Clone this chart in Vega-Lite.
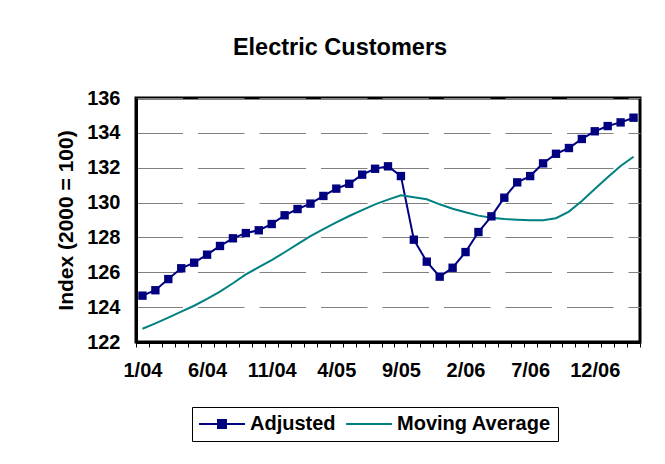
{
  "$schema": "https://vega.github.io/schema/vega-lite/v6.json",
  "autosize": {"type": "none"},
  "width": 504,
  "height": 244,
  "padding": {"left": 136, "top": 98, "right": 25, "bottom": 122},
  "background": "white",
  "config": {
    "font": "Liberation Sans",
    "view": {"stroke": "black", "strokeWidth": 3}
  },
  "title": {
    "text": "Electric Customers",
    "fontSize": 23.5,
    "fontWeight": "bold",
    "font": "Liberation Sans",
    "color": "black",
    "anchor": "middle",
    "dx": -48,
    "offset": 29
  },
  "data": {
    "values": [
      {"month": "1/04", "Adjusted": 124.66, "Moving Average": 122.76},
      {"month": "2/04", "Adjusted": 124.97, "Moving Average": 123.07},
      {"month": "3/04", "Adjusted": 125.61, "Moving Average": 123.40},
      {"month": "4/04", "Adjusted": 126.23, "Moving Average": 123.74},
      {"month": "5/04", "Adjusted": 126.55, "Moving Average": 124.08},
      {"month": "6/04", "Adjusted": 127.01, "Moving Average": 124.47},
      {"month": "7/04", "Adjusted": 127.51, "Moving Average": 124.89},
      {"month": "8/04", "Adjusted": 127.95, "Moving Average": 125.37},
      {"month": "9/04", "Adjusted": 128.25, "Moving Average": 125.88},
      {"month": "10/04", "Adjusted": 128.41, "Moving Average": 126.29},
      {"month": "11/04", "Adjusted": 128.77, "Moving Average": 126.70},
      {"month": "12/04", "Adjusted": 129.27, "Moving Average": 127.15},
      {"month": "1/05", "Adjusted": 129.63, "Moving Average": 127.62},
      {"month": "2/05", "Adjusted": 129.94, "Moving Average": 128.08},
      {"month": "3/05", "Adjusted": 130.38, "Moving Average": 128.47},
      {"month": "4/05", "Adjusted": 130.80, "Moving Average": 128.87},
      {"month": "5/05", "Adjusted": 131.08, "Moving Average": 129.23},
      {"month": "6/05", "Adjusted": 131.60, "Moving Average": 129.57},
      {"month": "7/05", "Adjusted": 131.94, "Moving Average": 129.90},
      {"month": "8/05", "Adjusted": 132.08, "Moving Average": 130.17},
      {"month": "9/05", "Adjusted": 131.52, "Moving Average": 130.42},
      {"month": "10/05", "Adjusted": 127.87, "Moving Average": 130.30},
      {"month": "11/05", "Adjusted": 126.61, "Moving Average": 130.19},
      {"month": "12/05", "Adjusted": 125.75, "Moving Average": 129.90},
      {"month": "1/06", "Adjusted": 126.26, "Moving Average": 129.65},
      {"month": "2/06", "Adjusted": 127.16, "Moving Average": 129.44},
      {"month": "3/06", "Adjusted": 128.31, "Moving Average": 129.25},
      {"month": "4/06", "Adjusted": 129.21, "Moving Average": 129.13},
      {"month": "5/06", "Adjusted": 130.28, "Moving Average": 129.06},
      {"month": "6/06", "Adjusted": 131.16, "Moving Average": 129.02},
      {"month": "7/06", "Adjusted": 131.52, "Moving Average": 128.98},
      {"month": "8/06", "Adjusted": 132.25, "Moving Average": 128.98},
      {"month": "9/06", "Adjusted": 132.80, "Moving Average": 129.10},
      {"month": "10/06", "Adjusted": 133.13, "Moving Average": 129.48},
      {"month": "11/06", "Adjusted": 133.65, "Moving Average": 130.09},
      {"month": "12/06", "Adjusted": 134.09, "Moving Average": 130.78},
      {"month": "1/07", "Adjusted": 134.39, "Moving Average": 131.45},
      {"month": "2/07", "Adjusted": 134.60, "Moving Average": 132.10},
      {"month": "3/07", "Adjusted": 134.87, "Moving Average": 132.63}
    ]
  },
  "transform": [
    {"fold": ["Adjusted", "Moving Average"], "as": ["series", "value"]}
  ],
  "encoding": {
    "x": {
      "field": "month",
      "type": "ordinal",
      "sort": null,
      "bandPosition": 0.5,
      "scale": {"type": "band", "paddingInner": 0, "paddingOuter": 0},
      "axis": {
        "title": null,
        "labelAngle": 0,
        "labelOverlap": false,
        "labelExpr": "indexof(['1/04','6/04','11/04','4/05','9/05','2/06','7/06','12/06'], datum.label) >= 0 ? datum.label : ''",
        "labelFont": "Liberation Sans",
        "labelFontSize": 20,
        "labelFontWeight": "bold",
        "labelColor": "black",
        "labelPadding": 13,
        "tickBand": "extent",
        "ticks": true,
        "tickSize": 5,
        "tickColor": "black",
        "tickWidth": 1,
        "domainColor": "black",
        "domainWidth": 3,
        "grid": false
      }
    },
    "y": {
      "field": "value",
      "type": "quantitative",
      "scale": {"domain": [122, 136], "nice": false, "zero": false},
      "axis": {
        "title": "Index (2000 = 100)",
        "titleFont": "Liberation Sans",
        "titleFontSize": 21,
        "titleFontWeight": "bold",
        "titleColor": "black",
        "titlePadding": 10,
        "values": [122, 124, 126, 128, 130, 132, 134, 136],
        "labelFont": "Liberation Sans",
        "labelFontSize": 20,
        "labelFontWeight": "bold",
        "labelColor": "black",
        "labelPadding": 16,
        "ticks": false,
        "domainColor": "black",
        "domainWidth": 3,
        "grid": true,
        "gridColor": "#808080",
        "gridWidth": 1,
        "gridDash": [46.5, 15]
      }
    },
    "color": {
      "field": "series",
      "type": "nominal",
      "scale": {"domain": ["Adjusted", "Moving Average"], "range": ["#000080", "#008080"]},
      "legend": {
        "title": null,
        "orient": "none",
        "legendX": 56,
        "legendY": 309,
        "direction": "horizontal",
        "columns": 2,
        "strokeColor": "black",
        "fillColor": "white",
        "padding": 7,
        "columnPadding": 6,
        "labelFont": "Liberation Sans",
        "labelFontSize": 20,
        "labelFontWeight": "bold",
        "labelColor": "black",
        "labelOffset": 18,
        "symbolSize": 324,
        "symbolOffset": 13,
        "symbolStrokeWidth": 2,
        "encode": {
          "symbols": {
            "update": {
              "shape": {"signal": "datum.value === 'Adjusted' ? 'M-2.55,0H2.55M-0.44,-0.44H0.44V0.44H-0.44Z' : 'M-2.55,0H2.55'"},
              "fill": {"signal": "datum.value === 'Adjusted' ? '#000080' : 'transparent'"}
            }
          }
        }
      }
    }
  },
  "layer": [
    {"mark": {"type": "line", "strokeWidth": 2}},
    {
      "transform": [{"filter": "datum.series === 'Adjusted'"}],
      "mark": {"type": "point", "shape": "square", "filled": true, "size": 70, "opacity": 1}
    }
  ]
}
